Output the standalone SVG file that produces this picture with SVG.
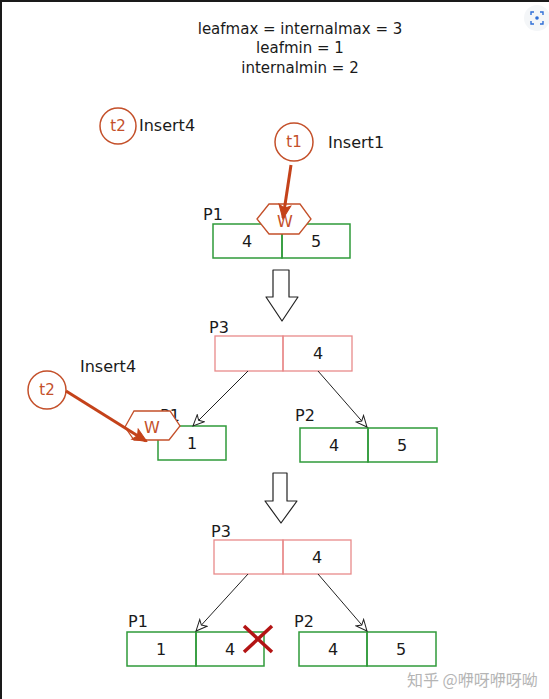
<svg xmlns="http://www.w3.org/2000/svg" width="549" height="699" viewBox="0 0 549 699">
<style>
text{font-family:"DejaVu Sans","Liberation Sans",sans-serif;fill:#1a1a1a}
.t{font-size:15px;text-anchor:middle}
.lbl{font-size:16px}
.num{font-size:16px;text-anchor:middle}
.leaf{fill:none;stroke:#2f9a3a;stroke-width:1.5}
.inner{fill:none;stroke:#e98a8a;stroke-width:1.3}
.thr{fill:none;stroke:#c4502a;stroke-width:1.5}
.thrt{font-size:15px;text-anchor:middle;fill:#c4502a}
.hex{fill:#fff;stroke:#c4502a;stroke-width:1.3}
.wt{font-size:16px;text-anchor:middle;fill:#c4502a}
.bold{stroke:#c4421a;stroke-width:3;fill:none}
.thin{stroke:#222;stroke-width:1;fill:none}
.down{fill:#fff;stroke:#222;stroke-width:1.2;stroke-linejoin:round}
</style>
<defs>
<marker id="open" markerWidth="14" markerHeight="12" refX="12" refY="6" orient="auto" markerUnits="userSpaceOnUse">
<path d="M1,1 L12,6 L1,11 L4,6 Z" fill="#fff" stroke="#222" stroke-width="1"/>
</marker>
<marker id="red" markerWidth="16" markerHeight="14" refX="14" refY="7" orient="auto" markerUnits="userSpaceOnUse">
<path d="M1,1 L15,7 L1,13 L4,7 Z" fill="#c4421a" stroke="#c4421a" stroke-width="1"/>
</marker>
</defs>
<rect width="549" height="699" fill="#fff"/>
<rect x="0" y="0" width="549" height="2" fill="#1a1a1a"/>
<rect x="0" y="0" width="2" height="699" fill="#1a1a1a"/>

<g id="header">
<text class="t" x="300" y="34">leafmax = internalmax = 3</text>
<text class="t" x="300" y="53">leafmin = 1</text>
<text class="t" x="300" y="73">internalmin = 2</text>
</g>

<g id="t2-top">
<circle class="thr" cx="118" cy="126" r="18"/>
<text class="thrt" x="118" y="131">t2</text>
<text class="lbl" x="139" y="131">Insert4</text>
</g>
<g id="t1">
<circle class="thr" cx="294" cy="142" r="19"/>
<text class="thrt" x="294" y="147">t1</text>
<text class="lbl" x="328" y="148">Insert1</text>
</g>

<g id="p1-top">
<text class="lbl" x="203" y="220">P1</text>
<rect class="leaf" x="213" y="224" width="69" height="34"/>
<rect class="leaf" x="282" y="224" width="68" height="34"/>
<text class="num" x="247" y="247">4</text>
<text class="num" x="316" y="247">5</text>
</g>
<g id="w-top">
<polygon class="hex" points="257,219 269,204 300,204 311,219 299,234 269,234"/>
<text class="wt" x="285" y="227">W</text>
</g>

<g id="down1">
<path class="down" d="M273,270 H289 V297 H298 L282,321 L266,297 H273 Z"/>
</g>

<g id="p3-mid">
<text class="lbl" x="209" y="333">P3</text>
<rect class="inner" x="215" y="336" width="68" height="35"/>
<rect class="inner" x="283" y="336" width="69" height="35"/>
<text class="num" x="318" y="359">4</text>
</g>

<g id="t2-mid">
<text class="lbl" x="80" y="372">Insert4</text>
<circle class="thr" cx="47" cy="390" r="19"/>
<text class="thrt" x="47" y="395">t2</text>
</g>

<g id="p1-mid">
<text class="lbl" x="160" y="421">P1</text>
<rect class="leaf" x="158" y="426" width="68" height="34"/>
<text class="num" x="192" y="449">1</text>
</g>
<g id="w-mid">
<polygon class="hex" points="125,427 134,411 170,411 180,426 169,440 134,440"/>
<text class="wt" x="152" y="433">W</text>
</g>

<g id="p2-mid">
<text class="lbl" x="295" y="421">P2</text>
<rect class="leaf" x="300" y="428" width="68" height="34"/>
<rect class="leaf" x="368" y="428" width="69" height="34"/>
<text class="num" x="334" y="451">4</text>
<text class="num" x="402" y="451">5</text>
</g>

<g id="down2">
<path class="down" d="M273,473 H287 V501 H297 L281,523 L265,501 H273 Z"/>
</g>

<g id="p3-bot">
<text class="lbl" x="211" y="537">P3</text>
<rect class="inner" x="214" y="540" width="69" height="34"/>
<rect class="inner" x="283" y="540" width="68" height="34"/>
<text class="num" x="317" y="563">4</text>
</g>

<g id="p1-bot">
<text class="lbl" x="128" y="627">P1</text>
<rect class="leaf" x="127" y="632" width="69" height="34"/>
<rect class="leaf" x="196" y="632" width="68" height="34"/>
<text class="num" x="161" y="655">1</text>
<text class="num" x="230" y="655">4</text>
</g>
<g id="x-mark">
<path d="M244,626 L272,652 M272,626 L244,652" stroke="#b31414" stroke-width="3.5" fill="none"/>
</g>

<g id="p2-bot">
<text class="lbl" x="294" y="627">P2</text>
<rect class="leaf" x="299" y="632" width="68" height="34"/>
<rect class="leaf" x="367" y="632" width="69" height="34"/>
<text class="num" x="333" y="655">4</text>
<text class="num" x="401" y="655">5</text>
</g>

<g id="connectors">
<line class="bold" x1="291" y1="165" x2="283" y2="218" marker-end="url(#red)"/>
<line class="bold" x1="66" y1="391" x2="146" y2="441" marker-end="url(#red)"/>
<line class="thin" x1="248" y1="371" x2="193" y2="426" marker-end="url(#open)"/>
<line class="thin" x1="318" y1="371" x2="367" y2="427" marker-end="url(#open)"/>
<line class="thin" x1="248" y1="574" x2="196" y2="631" marker-end="url(#open)"/>
<line class="thin" x1="318" y1="574" x2="367" y2="631" marker-end="url(#open)"/>
</g>

<g id="watermark">
<text x="407" y="686" style="font-family:'Noto Sans CJK SC','Liberation Sans',sans-serif;font-size:16px;fill:#b5b5b5">知乎 @咿呀咿呀呦</text>
</g>

<g id="scan-icon">
<circle cx="537" cy="18" r="13" fill="#f4f6f8"/>
<path d="M531,15 V12 H534 M540,12 H543 V15 M543,21 V24 H540 M534,24 H531 V21" stroke="#2f6fd6" stroke-width="1.4" fill="none"/>
<circle cx="537" cy="18" r="1.8" fill="#2f6fd6"/>
</g>
</svg>
